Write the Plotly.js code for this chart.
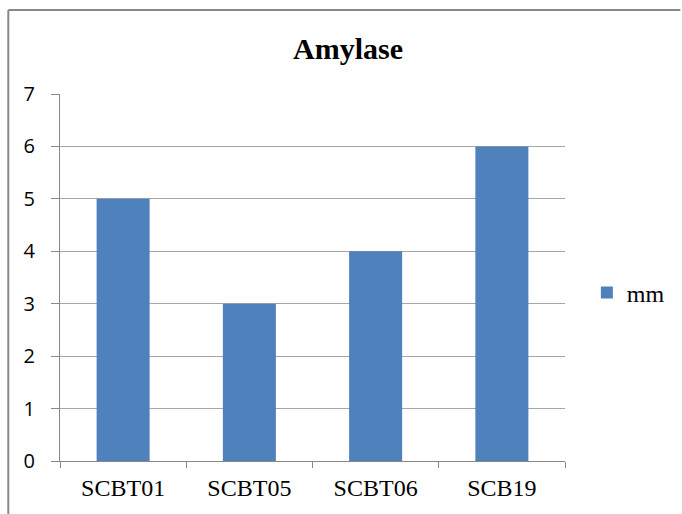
<!DOCTYPE html>
<html>
<head>
<meta charset="utf-8">
<script src="https://cdn.plot.ly/plotly-3.0.1.min.js"></script>
<style>
html,body{margin:0;padding:0;background:#fff;}
#chart{width:682px;height:514px;}
</style>
</head>
<body>
<div id="chart"></div>
<script>
var categories = ["SCBT01", "SCBT05", "SCBT06", "SCB19"];
var values = [5, 3, 4, 6];
var seriesName = "mm";
var yTicks = [0, 1, 2, 3, 4, 5, 6, 7];

var W = 682, H = 514;
var mL = 60, mR = 114, mT = 94, mB = 53;
var pw = W - mL - mR, ph = H - mT - mB;
function px(x){ return (x - mL) / pw; }
function py(y){ return (H - mB - y) / ph; }

var trace = {
  type: "bar",
  x: categories,
  y: values,
  name: seriesName,
  marker: {color: "#4f81bd"},
  showlegend: true
};

var layout = {
  width: W, height: H,
  margin: {l: mL, r: mR, t: mT, b: mB, pad: 0},
  paper_bgcolor: "#ffffff",
  plot_bgcolor: "#ffffff",
  bargap: 0.58,
  title: {
    text: "<b>Amylase</b>",
    font: {family: "Liberation Serif, Times New Roman, serif", size: 30, color: "#000"},
    xref: "container", x: 348 / W, xanchor: "center",
    y: 1 - 48 / H, yanchor: "middle"
  },
  xaxis: {
    type: "category",
    tickson: "boundaries",
    ticks: "outside",
    ticklen: 6,
    tickcolor: "#888888",
    showline: true,
    linecolor: "#888888",
    linewidth: 1,
    showgrid: false,
    tickfont: {family: "Liberation Serif, Times New Roman, serif", size: 24, color: "#000"},
    ticklabelstandoff: 5
  },
  yaxis: {
    range: [0, 7],
    tickvals: yTicks,
    ticks: "outside",
    ticklen: 8,
    tickcolor: "#888888",
    showline: true,
    linecolor: "#888888",
    linewidth: 1,
    showgrid: true,
    gridcolor: "#a6a6a6",
    gridwidth: 1,
    zeroline: false,
    tickfont: {family: "Open Sans, Liberation Sans, sans-serif", size: 20, color: "#000"},
    ticklabelstandoff: 12
  },
  legend: {
    x: px(590), xanchor: "left",
    y: py(293), yanchor: "middle",
    font: {family: "Liberation Serif, Times New Roman, serif", size: 24, color: "#000"},
    itemwidth: 30,
    bgcolor: "rgba(0,0,0,0)"
  },
  shapes: [
    {type: "line", xref: "paper", yref: "paper", x0: px(8), x1: px(684), y0: py(10), y1: py(10),
     line: {color: "#888888", width: 2}},
    {type: "line", xref: "paper", yref: "paper", x0: px(8), x1: px(8), y0: py(10), y1: py(516),
     line: {color: "#888888", width: 2}}
  ]
};

Plotly.newPlot("chart", [trace], layout, {displayModeBar: false, staticPlot: true});
</script>
</body>
</html>
